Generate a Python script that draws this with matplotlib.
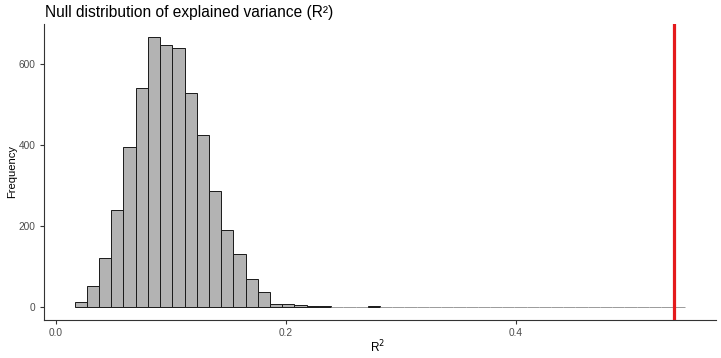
import numpy as np
import matplotlib
matplotlib.use("Agg")
import matplotlib.pyplot as plt

plt.rcParams['font.family'] = ['Liberation Sans', 'DejaVu Sans']

# ---- data ----
first_edge = 0.0162
bin_width = 0.01062
counts = [11, 50, 119, 238, 395, 542, 666, 647, 641, 528,
          425, 285, 190, 130, 69, 36, 7, 6, 3, 1,
          1, 0, 0, 0, 2, 0, 0, 0, 0, 0,
          0, 0, 0, 0, 0, 0, 0, 0, 0, 0,
          0, 0, 0, 0, 0, 0, 0, 0, 0, 0]
observed_r2 = 0.537
x_ticks = [0.0, 0.2, 0.4]
x_tick_labels = ["0.0", "0.2", "0.4"]
y_ticks = [0, 200, 400, 600]

title = "Null distribution of explained variance (R²)"
xlabel = "R$^2$"
ylabel = "Frequency"

# ---- plot ----
W, H = 721, 358
fig = plt.figure(figsize=(W / 100, H / 100), dpi=100)
ax = fig.add_axes([44 / W, (H - 320) / H, 672 / W, 296 / H])

lefts = first_edge + bin_width * np.arange(len(counts))
edge_cols = ['#1a1a1a' if c > 0 else '#9a9a9a' for c in counts]
ax.bar(lefts, counts, width=bin_width, align='edge', color='#b3b3b3',
       edgecolor=edge_cols, linewidth=0.7, zorder=2)
ax.axvline(observed_r2, color='#e41a1c', linewidth=2.3, zorder=3)

xmin = first_edge
xmax = first_edge + bin_width * len(counts)
pad = 0.05 * (xmax - xmin)
ax.set_xlim(xmin - pad, xmax + pad)
ymax = max(counts)
ax.set_ylim(-0.05 * ymax, ymax * 1.05)

ax.set_xticks(x_ticks)
ax.set_xticklabels(x_tick_labels)
ax.set_yticks(y_ticks)

for s in ['top', 'right']:
    ax.spines[s].set_visible(False)
for s in ['left', 'bottom']:
    ax.spines[s].set_color('#333333')
    ax.spines[s].set_linewidth(0.8)
ax.tick_params(axis='both', colors='#333333', length=3, width=0.8,
               labelsize=7.3, labelcolor='#4d4d4d', pad=3)

ax.set_xlabel(xlabel, fontsize=8.5, color='black')
ax.xaxis.set_label_coords(0.497, -0.062)
ax.set_ylabel(ylabel, fontsize=8, color='black', va='center')
ax.yaxis.set_label_coords(-0.0476, 0.5)
fig.text(45 / W, 1 - 12 / H, title, fontsize=11.2, ha='left', va='center')

fig.savefig("out.png", dpi=100)
